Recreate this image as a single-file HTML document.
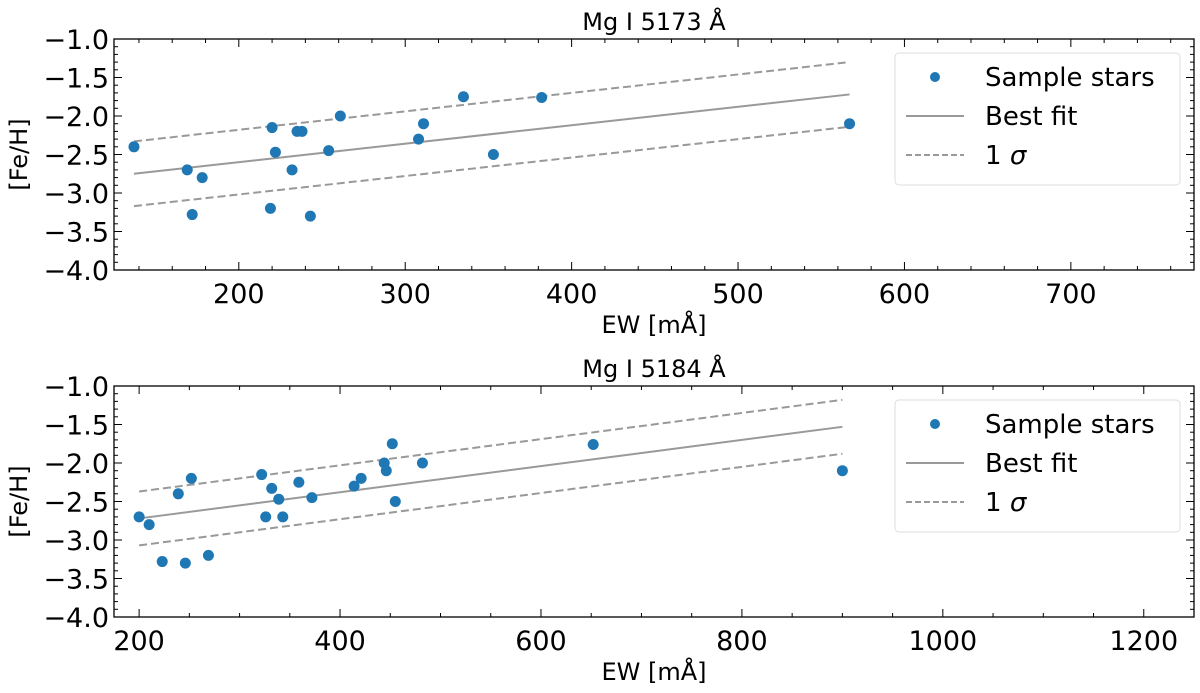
<!DOCTYPE html>
<html><head><meta charset="utf-8"><style>
body{margin:0;background:#fff;}
svg text{font-family:"DejaVu Sans","Liberation Sans",sans-serif;fill:#000;}
</style></head><body>
<svg id="fig" width="1200" height="688"></svg>
<script>
const ns="http://www.w3.org/2000/svg";
const svg=document.getElementById('fig');
// Panel 1 data
const ew5173=[137,169,172,178,219,220,222,232,235,238,243,254,261,308,311,335,353,382,567];
const feh5173=[-2.4,-2.7,-3.28,-2.8,-3.2,-2.15,-2.47,-2.7,-2.2,-2.2,-3.3,-2.45,-2.0,-2.3,-2.1,-1.75,-2.5,-1.76,-2.1];
const fitX5173=[137,567];
const fitY5173=[-2.75,-1.72];
const sigma5173=[0.42];
const xTicks5173=[200,300,400,500,600,700];
// Panel 2 data
const ew5184=[200,210,223,239,246,252,269,322,326,332,339,343,359,372,414,421,444,446,452,455,482,652,900];
const feh5184=[-2.7,-2.8,-3.28,-2.4,-3.3,-2.2,-3.2,-2.15,-2.7,-2.33,-2.47,-2.7,-2.25,-2.45,-2.3,-2.2,-2.0,-2.1,-1.75,-2.5,-2.0,-1.76,-2.1];
const fitX5184=[200,900];
const fitY5184=[-2.72,-1.53];
const sigma5184=[0.35];
const xTicks5184=[200,400,600,800,1000,1200];
const yTicks=[-1.0,-1.5,-2.0,-2.5,-3.0,-3.5,-4.0];

function el(tag,attrs,parent){const e=document.createElementNS(ns,tag);for(const k in attrs)e.setAttribute(k,attrs[k]);(parent||svg).appendChild(e);return e;}

function panel(o){
  const g=el('g',{});
  
  
  const L=114,R=1194,T=o.top,B=o.top+231;
  const sx=v=>L+(v-o.xmin)/(o.xmax-o.xmin)*(R-L);
  const sy=v=>T+(v-(-1.0))/(-3.0)*(B-T);
  for(let v=Math.ceil(o.xmin/o.minor)*o.minor;v<=o.xmax;v+=o.minor){
    const major=(v%o.major===0);const len=major?8:4;const x=sx(v);
    el('line',{x1:x,x2:x,y1:B,y2:B-len,stroke:'#000','stroke-width':1},g);
    el('line',{x1:x,x2:x,y1:T,y2:T+len,stroke:'#000','stroke-width':1},g);
  }
  for(let i=0;i<=30;i++){
    const v=-1-i*0.1;const major=(i%5===0);const len=major?8:4;const y=sy(v);
    el('line',{x1:L,x2:L+len,y1:y,y2:y,stroke:'#000','stroke-width':1},g);
    el('line',{x1:R,x2:R-len,y1:y,y2:y,stroke:'#000','stroke-width':1},g);
  }
  o.xticks.forEach(v=>{const t=el('text',{x:sx(v),y:B+33,'font-size':27,'text-anchor':'middle'},g);t.textContent=v;
    
    });
  yTicks.forEach(v=>{const t=el('text',{x:L-5,y:sy(v)+10,'font-size':27,'text-anchor':'end'},g);t.textContent='\u2212'+Math.abs(v).toFixed(1);
    
    });
  const s=o.sigma[0];
  const fit=el('line',{x1:sx(o.fx[0]),y1:sy(o.fy[0]),x2:sx(o.fx[1]),y2:sy(o.fy[1]),stroke:'#999','stroke-width':2},g);
  
  
  [s,-s].forEach(d=>{const l=el('line',{x1:sx(o.fx[0]),y1:sy(o.fy[0]+d),x2:sx(o.fx[1]),y2:sy(o.fy[1]+d),stroke:'#999','stroke-width':2,'stroke-dasharray':'8,4'},g);
    
    });
  o.xs.forEach((x,i)=>{const c=el('circle',{cx:sx(x),cy:sy(o.ys[i]),r:5.5,fill:'#1f77b4'},g);
    
    });
  el('rect',{x:L,y:T,width:R-L,height:B-T,fill:'none',stroke:'#000','stroke-width':1.3},g);
  const tt=el('text',{x:654,y:T-9,'font-size':24,'text-anchor':'middle'},g);tt.textContent=o.title;
  
  
  const xl=el('text',{x:654,y:B+63,'font-size':24,'text-anchor':'middle'},g);xl.textContent='EW [mÅ]';
  
  
  const yl=el('text',{x:0,y:0,'font-size':24,'text-anchor':'middle',transform:`translate(27,${(T+B)/2}) rotate(-90)`},g);yl.textContent='[Fe/H]';
  
  
  const lg=el('g',{},g);
  
  
  const ly=T+14;
  el('rect',{x:895,y:ly,width:285,height:132,rx:4,fill:'#fff',stroke:'#ddd','stroke-width':1},lg);
  el('circle',{cx:935,cy:ly+24,r:5,fill:'#1f77b4'},lg);
  el('line',{x1:906,x2:964,y1:ly+63,y2:ly+63,stroke:'#999','stroke-width':2},lg);
  el('line',{x1:906,x2:964,y1:ly+102,y2:ly+102,stroke:'#999','stroke-width':2,'stroke-dasharray':'6,3'},lg);
  const labels=['Sample stars','Best fit','1 '];
  labels.forEach((t,i)=>{const e=el('text',{x:985,y:ly+33+i*39,'font-size':26},lg);e.textContent=t;
    if(i===2){const ts=el('tspan',{'font-style':'italic'},e);ts.textContent='σ';}
    
    });
}
panel({name:'panel-mg5173',top:39,xmin:125,xmax:774,minor:20,major:100,xticks:xTicks5173,xs:ew5173,ys:feh5173,fx:fitX5173,fy:fitY5173,sigma:sigma5173,title:'Mg I 5173 Å'});
panel({name:'panel-mg5184',top:386,xmin:175,xmax:1250,minor:50,major:200,xticks:xTicks5184,xs:ew5184,ys:feh5184,fx:fitX5184,fy:fitY5184,sigma:sigma5184,title:'Mg I 5184 Å'});
</script>
</body></html>
